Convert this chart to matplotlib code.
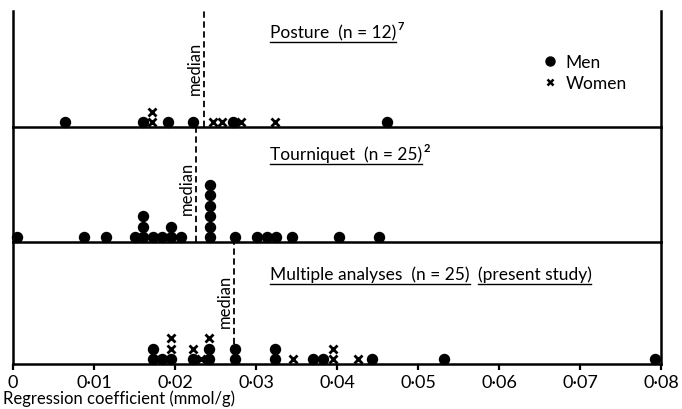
import matplotlib
matplotlib.use("Agg")
import matplotlib.pyplot as plt
from matplotlib.lines import Line2D

plt.rcParams['font.family'] = ['Lato', 'DejaVu Sans']

# --- data (regression coefficient, mmol/g) ---
x_ticks = [0, 0.01, 0.02, 0.03, 0.04, 0.05, 0.06, 0.07, 0.08]
x_tick_labels = ['0', '0·01', '0·02', '0·03', '0·04', '0·05', '0·06', '0·07', '0·08']

posture_men = [0.0064, 0.0160, 0.0191, 0.0222, 0.0272, 0.0462]
posture_women = [0.0172, 0.0172, 0.0247, 0.0258, 0.0281, 0.0323]
posture_median = 0.0236

tourniquet_men = [0.0005, 0.0088, 0.0115, 0.0151, 0.0160, 0.0160, 0.0160,
                  0.0173, 0.0184, 0.0195, 0.0195, 0.0207,
                  0.0243, 0.0243, 0.0243, 0.0243, 0.0243, 0.0243,
                  0.0274, 0.0301, 0.0314, 0.0325, 0.0344, 0.0402, 0.0452]
tourniquet_women = []
tourniquet_median = 0.0226

multiple_men = [0.0173, 0.0173, 0.0184, 0.0195, 0.0222, 0.0242, 0.0242,
                0.0274, 0.0274, 0.0323, 0.0323, 0.0370, 0.0383,
                0.0443, 0.0532, 0.0793]
multiple_women = [0.0195, 0.0195, 0.0222, 0.0232, 0.0242, 0.0346,
                  0.0395, 0.0395, 0.0426]
multiple_median = 0.0273

panels = [
    ("Posture  (n = 12)", "7", None, posture_men, posture_women, posture_median),
    ("Tourniquet  (n = 25)", "2", None, tourniquet_men, tourniquet_women, tourniquet_median),
    ("Multiple analyses  (n = 25)", None, "(present study)", multiple_men, multiple_women, multiple_median),
]


def stack_levels(men, women):
    # men are drawn first in a column, women stacked on top
    counts = {}
    lm, lw = [], []
    for v in men:
        k = counts.get(v, 0)
        lm.append(k)
        counts[v] = k + 1
    for v in women:
        k = counts.get(v, 0)
        lw.append(k)
        counts[v] = k + 1
    return lm, lw


W, H = 682, 410
fig = plt.figure(figsize=(W / 100, H / 100), dpi=100)

# panel edges in pixels (top, bottom)
edges = [(12, 128), (128, 243), (243, 365)]
x_left, x_right = 13, 661
step_px = 10.5
median_text_gap = [33, 28, 37]

axes = []
for i, (top, bot) in enumerate(edges):
    ax = fig.add_axes([x_left / W, 1 - bot / H, (x_right - x_left) / W, (bot - top) / H])
    ax.patch.set_visible(False)
    h_units = (bot - top) / step_px
    ax.set_ylim(-0.45, h_units - 0.45)
    ax.set_xlim(0, 0.08)
    for s in ax.spines.values():
        s.set_linewidth(1.8)
    ax.spines['top'].set_visible(False)
    ax.set_yticks([])
    axes.append(ax)

for i, (ax, (title, sup, extra, men, women, med)) in enumerate(zip(axes, panels)):
    lm, lw = stack_levels(men, women)
    ax.plot(men, lm, 'o', color='black', markersize=7.2, clip_on=False, zorder=5)
    if women:
        ax.plot(women, lw, 'x', color='black', markersize=5.5, mew=2.0, clip_on=False, zorder=5)
    ax.axvline(med, color='black', ls=(0, (3.5, 2)), lw=1.3, zorder=2)
    gap_units = median_text_gap[i] / step_px - 0.45
    ax.text(med - 0.00012, gap_units, 'median', rotation=90, ha='right', va='bottom',
            fontsize=12)
    if i < 2:
        ax.set_xticks([])
    else:
        ax.set_xticks(x_ticks)
        ax.set_xticklabels(x_tick_labels, fontsize=13)
        ax.tick_params(axis='x', direction='out', length=4, width=1.6, pad=3)

title_y = [33, 155, 275]
fig.canvas.draw()
renderer = fig.canvas.get_renderer()


def underlined(x_px, y_px, s, size=12.5):
    t = fig.text(x_px / W, 1 - y_px / H, s, fontsize=size, ha='left', va='center')
    bb = t.get_window_extent(renderer=renderer)
    y_line = bb.y0 - 2
    fig.add_artist(Line2D([bb.x0 / W, bb.x1 / W], [y_line / H, y_line / H],
                          color='black', lw=1.0))
    return bb


for i, (title, sup, extra, men, women, med) in enumerate(panels):
    bb = underlined(270, title_y[i], title)
    if sup:
        fig.text((bb.x1 + 1) / W, (bb.y1 - 7) / H, sup, fontsize=8, fontweight='bold',
                 ha='left', va='bottom')
    if extra:
        underlined(bb.x1 + 8, title_y[i], extra)

# legend
legend_handles = [
    Line2D([], [], marker='o', ls='none', color='black', markersize=6.5),
    Line2D([], [], marker='x', ls='none', color='black', markersize=5, mew=1.8),
]
fig.legend(legend_handles, ['Men', 'Women'], loc='upper left',
           bbox_to_anchor=(534 / W, 1 - 46 / H), frameon=False, fontsize=12.5,
           handlelength=0.8, handletextpad=0.5, labelspacing=0.3, borderpad=0)

fig.text(3 / W, 1 - 399 / H, 'Regression coefficient (mmol/g)', fontsize=12,
         ha='left', va='center')

fig.savefig('out.png', dpi=100)
